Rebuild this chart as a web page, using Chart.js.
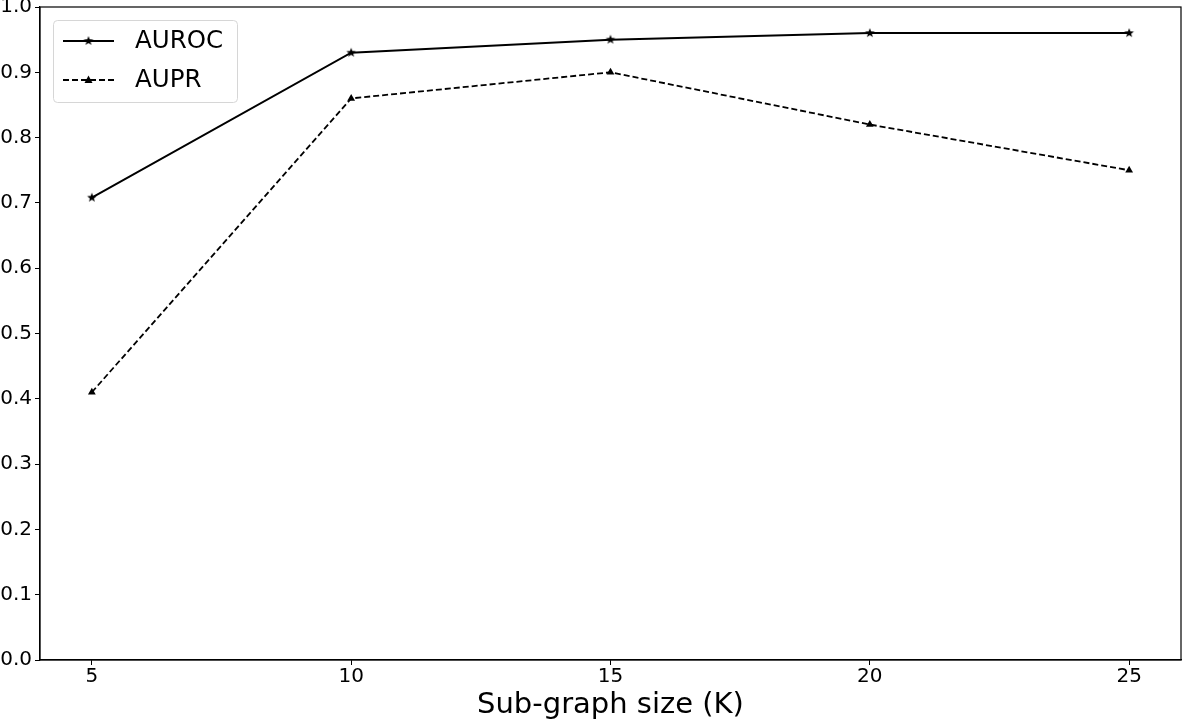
<!DOCTYPE html>
<html><head><meta charset="utf-8">
<script src="https://cdn.jsdelivr.net/npm/chart.js@4/dist/chart.umd.min.js"></script>
<style>html,body{margin:0;padding:0;background:#fff}#wrap{width:1182px;height:720px}</style>
</head><body><div id="wrap"><canvas id="c" width="1182" height="720"></canvas></div>
<script>
const subgraphSizes = [5, 10, 15, 20, 25];
const aurocValues = [0.708, 0.93, 0.95, 0.96, 0.96];
const auprValues = [0.41, 0.86, 0.90, 0.82, 0.75];
const xTickValues = [5, 10, 15, 20, 25];
const seriesNames = ['AUROC', 'AUPR'];
const xTitle = 'Sub-graph size (K)';

function makeStar(r) {
  const s = Math.ceil(r * 2 + 2), c = document.createElement('canvas');
  c.width = s; c.height = s;
  const g = c.getContext('2d'); g.fillStyle = '#000'; g.beginPath();
  for (let i = 0; i < 10; i++) {
    const rr = i % 2 === 0 ? r : r * 0.42, a = -Math.PI / 2 + i * Math.PI / 5;
    const x = s / 2 + rr * Math.cos(a), y = s / 2 + rr * Math.sin(a);
    i ? g.lineTo(x, y) : g.moveTo(x, y);
  }
  g.closePath(); g.fill(); return c;
}
const star = makeStar(5);
const FONT = "'DejaVu Sans', sans-serif";

const frame = {
  id: 'frame',
  afterDraw(chart) {
    const {ctx, chartArea: a} = chart;
    ctx.save();
    ctx.strokeStyle = '#000'; ctx.lineWidth = 1.2;
    ctx.strokeRect(a.left, a.top, a.right - a.left, a.bottom - a.top);
    // legend
    const lx = 53.5, ly = 20.5, lw = 184, lh = 82;
    ctx.strokeStyle = '#d6d6d6'; ctx.lineWidth = 1; ctx.fillStyle = 'rgba(255,255,255,0.8)';
    ctx.beginPath(); ctx.roundRect(lx, ly, lw, lh, 4); ctx.fill(); ctx.stroke();
    const rows = [{y: 41, dash: [], img: star, w: 2}, {y: 80, dash: [6, 3], tri: true, w: 1.8}];
    rows.forEach((r, i) => {
      ctx.strokeStyle = '#000'; ctx.lineWidth = r.w; ctx.setLineDash(r.dash);
      ctx.beginPath(); ctx.moveTo(63, r.y); ctx.lineTo(114, r.y); ctx.stroke(); ctx.setLineDash([]);
      if (r.img) ctx.drawImage(r.img, 88.5 - r.img.width / 2, r.y - r.img.height / 2);
      else { ctx.fillStyle = '#000'; ctx.beginPath(); ctx.moveTo(88.5, r.y - 4.5); ctx.lineTo(92.5, r.y + 3); ctx.lineTo(84.5, r.y + 3); ctx.closePath(); ctx.fill(); }
      ctx.fillStyle = '#000'; ctx.font = '24.5px ' + FONT; ctx.textBaseline = 'middle';
      ctx.fillText(seriesNames[i], 135, r.y + 1);
    });
    ctx.restore();
  }
};

new Chart(document.getElementById('c'), {
  type: 'line',
  data: {
    datasets: [
      {label: seriesNames[0], data: subgraphSizes.map((x, i) => ({x, y: aurocValues[i]})),
       borderColor: '#000', borderWidth: 2, pointStyle: star, pointRadius: 5, backgroundColor: '#000'},
      {label: seriesNames[1], data: subgraphSizes.map((x, i) => ({x, y: auprValues[i]})),
       borderColor: '#000', borderWidth: 1.8, borderDash: [6, 3], pointStyle: 'triangle', pointRadius: 4.5,
       pointBackgroundColor: '#000', pointBorderColor: '#000', pointBorderWidth: 0}
    ]
  },
  options: {
    responsive: false, animation: false,
    layout: {autoPadding: false, padding: {top: 7, right: 1, left: 0, bottom: 0}},
    plugins: {legend: {display: false}, tooltip: {enabled: false}},
    scales: {
      x: {type: 'linear', min: 4, max: 26,
        afterBuildTicks: s => { s.ticks = xTickValues.map(v => ({value: v})); },
        afterFit: s => { s.height = 60; s.paddingLeft = 0; s.paddingRight = 0; },
        grid: {drawOnChartArea: false, drawTicks: true, tickLength: 5, color: '#000'},
        border: {display: true, color: '#000', width: 1.2},
        ticks: {color: '#000', font: {family: FONT, size: 20, lineHeight: 1}, padding: 2, maxRotation: 0},
        title: {display: true, text: xTitle, color: '#000', font: {family: FONT, size: 29, lineHeight: 1}, padding: {top: 0, bottom: 0}}
      },
      y: {min: 0, max: 1,
        afterBuildTicks: s => { s.ticks = Array.from({length: 11}, (_, i) => ({value: i / 10})); },
        afterFit: s => { s.width = 40; s.paddingTop = 0; s.paddingBottom = 0; },
        grid: {drawOnChartArea: false, drawTicks: true, tickLength: 5, color: '#000'},
        border: {display: true, color: '#000', width: 1.2},
        ticks: {color: '#000', font: {family: FONT, size: 20}, padding: 3, callback: v => v.toFixed(1)}
      }
    }
  },
  plugins: [frame]
});
</script></body></html>
